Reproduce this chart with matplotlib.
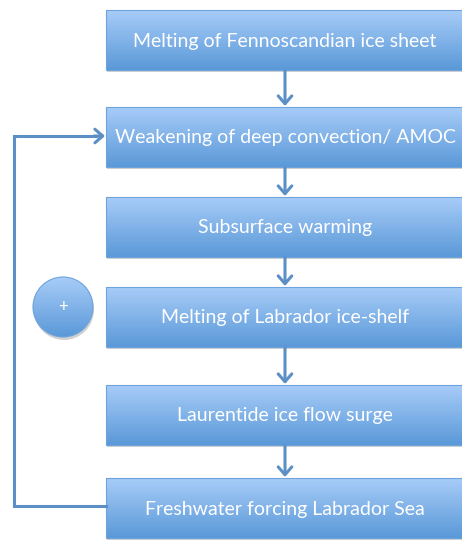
import numpy as np
import matplotlib.pyplot as plt
from matplotlib.patches import Rectangle, Circle, FancyArrowPatch
from matplotlib.colors import LinearSegmentedColormap

# Flowchart steps, top to bottom
steps = [
    "Melting of Fennoscandian ice sheet",
    "Weakening of deep convection/ AMOC",
    "Subsurface warming",
    "Melting of Labrador ice-shelf",
    "Laurentide ice flow surge",
    "Freshwater forcing Labrador Sea",
]
feedback_sign = "+"

# Layout (pixel coordinates, y grows downward)
W, H = 462, 541
box_left, box_right = 106, 466
box_h = 60
box_tops = [10, 107, 197, 287, 385, 478]
arrow_x = 285
line_color = "#5b8fc6"
arrow_style = "->,head_length=0.4,head_width=0.35"

fig = plt.figure(figsize=(W / 100, H / 100), dpi=100)
ax = fig.add_axes([0, 0, 1, 1])
ax.set_xlim(0, W)
ax.set_ylim(H, 0)
ax.axis("off")

grad = LinearSegmentedColormap.from_list("boxgrad", ["#a7ccf8", "#5b99d8"])
grad_img = np.linspace(0, 1, 64).reshape(-1, 1)

for label, top in zip(steps, box_tops):
    # soft shadow
    ax.add_patch(Rectangle((box_left + 1, top + 2), box_right - box_left, box_h,
                           facecolor="#000000", alpha=0.18, edgecolor="none", zorder=1))
    im = ax.imshow(grad_img, cmap=grad, aspect="auto",
                   extent=(box_left, box_right, top + box_h, top), zorder=2)
    rect = Rectangle((box_left, top), box_right - box_left, box_h,
                     facecolor="none", edgecolor="#6fa3dc", lw=0.8, zorder=3)
    ax.add_patch(rect)
    im.set_clip_path(rect)
    ax.text(arrow_x, top + box_h / 2 + 1, label, color="white", ha="center",
            va="center", fontsize=14, family="Lato", zorder=4)

# Downward arrows between boxes
for top, next_top in zip(box_tops[:-1], box_tops[1:]):
    ax.add_patch(FancyArrowPatch((arrow_x, top + box_h + 1), (arrow_x, next_top - 1),
                                 arrowstyle=arrow_style, mutation_scale=14,
                                 color=line_color, lw=2.2,
                                 shrinkA=0, shrinkB=0, zorder=5))

# Feedback loop from last box back to the second one
loop_x = 14
y_from = box_tops[-1] + 28
y_to = box_tops[1] + 29
ax.plot([box_left, loop_x, loop_x, box_left - 10], [y_from, y_from, y_to, y_to],
        color=line_color, lw=2.2, solid_joinstyle="miter", zorder=5)
ax.add_patch(FancyArrowPatch((box_left - 12, y_to), (box_left - 1, y_to),
                             arrowstyle=arrow_style, mutation_scale=14,
                             color=line_color, lw=2.2,
                             shrinkA=0, shrinkB=0, zorder=5))

# Positive feedback marker
cx, cy, r = 63, 307, 30
ax.add_patch(Circle((cx + 1, cy + 3), r, facecolor="#000000", alpha=0.18,
                    edgecolor="none", zorder=1))
circ = Circle((cx, cy), r, facecolor="none", edgecolor="#6fa3dc", lw=0.8, zorder=3)
ax.add_patch(circ)
cim = ax.imshow(grad_img, cmap=grad, aspect="auto",
                extent=(cx - r, cx + r, cy + r, cy - r), zorder=2)
cim.set_clip_path(circ)
ax.text(cx, cy, feedback_sign, color="white", ha="center", va="center",
        fontsize=12, family="Lato", zorder=4)

ax.set_xlim(0, W)
ax.set_ylim(H, 0)
fig.savefig("out.png", dpi=100)
